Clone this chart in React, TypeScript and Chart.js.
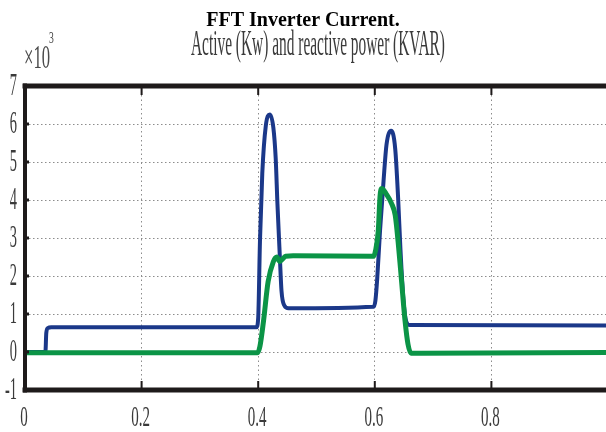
import React, { useEffect, useRef } from "react";
import { Chart, registerables } from "chart.js";

Chart.register(...registerables);

const TITLE = "FFT Inverter Current.";
const SUBTITLE = "Active (Kw) and reactive power (KVAR)";
const EXP_BASE = "×10";
const EXP_POWER = "3";

const xTickLabels = ["0", "0.2", "0.4", "0.6", "0.8"];
const yTickLabels = ["-1", "0", "1", "2", "3", "4", "5", "6", "7"];

// Active power (kW, ×10^3) — time (s)
const activeT = [0, 0.035, 0.0365, 0.039, 0.045, 0.397, 0.4, 0.403, 0.407, 0.413, 0.42, 0.426, 0.43, 0.433, 0.437, 0.44, 0.445, 0.452, 0.598, 0.601, 0.604, 0.609, 0.615, 0.62, 0.628, 0.635, 0.64, 0.644, 0.649, 0.654, 0.66, 1.0];
const activeP = [0, 0, 0.5, 0.63, 0.65, 0.65, 0.9, 2.9, 4.7, 5.95, 6.25, 5.9, 5.1, 3.9, 2.55, 1.6, 1.22, 1.15, 1.19, 1.35, 1.9, 3.2, 4.5, 5.45, 5.82, 5.35, 4.05, 2.7, 1.4, 0.8, 0.71, 0.7];

// Reactive power (kVAR, ×10^3)
const reactiveT = [0, 0.399, 0.403, 0.409, 0.417, 0.426, 0.432, 0.437, 0.442, 0.447, 0.46, 0.598, 0.601, 0.606, 0.609, 0.612, 0.62, 0.629, 0.635, 0.64, 0.646, 0.652, 0.657, 0.662, 0.68, 1.0];
const reactiveQ = [-0.02, -0.02, 0.15, 0.8, 1.85, 2.38, 2.5, 2.38, 2.45, 2.52, 2.53, 2.52, 2.65, 3.2, 4.1, 4.3, 4.15, 3.9, 3.6, 2.9, 1.85, 0.8, 0.2, -0.03, -0.03, -0.01];

const SERIF = "'Liberation Serif', 'Times New Roman', serif";

function condensed(ctx: CanvasRenderingContext2D, text: string, x: number, y: number, font: string, sx: number, align: CanvasTextAlign, baseline: CanvasTextBaseline, color: string) {
  ctx.save();
  ctx.font = font;
  ctx.fillStyle = color;
  ctx.textAlign = align;
  ctx.textBaseline = baseline;
  ctx.translate(x, y);
  ctx.scale(sx, 1);
  ctx.fillText(text, 0, 0);
  ctx.restore();
}

const decorPlugin = {
  id: "decor",
  afterDraw(chart: any) {
    const ctx: CanvasRenderingContext2D = chart.ctx;
    const { left, top, right, bottom } = chart.chartArea;
    const xs = chart.scales.x;
    const ys = chart.scales.y;

    // frame
    ctx.save();
    ctx.strokeStyle = "#1e1a1a";
    ctx.lineCap = "butt";
    ctx.lineWidth = 5;
    ctx.beginPath();
    ctx.moveTo(left - 2.5, top);
    ctx.lineTo(right + 20, top);
    ctx.moveTo(left - 2.5, bottom);
    ctx.lineTo(right + 20, bottom);
    ctx.stroke();
    ctx.lineWidth = 4;
    ctx.beginPath();
    ctx.moveTo(left, top - 2.5);
    ctx.lineTo(left, bottom + 2.5);
    ctx.stroke();

    // inner tick marks
    ctx.lineWidth = 2;
    ctx.beginPath();
    xs.ticks.forEach((t: any) => {
      const px = xs.getPixelForValue(t.value);
      ctx.moveTo(px, top);
      ctx.lineTo(px, top + 9);
      ctx.moveTo(px, bottom);
      ctx.lineTo(px, bottom - 9);
    });
    ctx.stroke();
    ctx.lineWidth = 3;
    ctx.beginPath();
    ys.ticks.forEach((t: any) => {
      const py = ys.getPixelForValue(t.value);
      ctx.moveTo(left, py);
      ctx.lineTo(left + 4, py);
    });
    ctx.stroke();
    ctx.restore();

    // tick labels
    ys.ticks.forEach((t: any, i: number) => {
      const py = ys.getPixelForValue(t.value);
      const label = yTickLabels[i];
      if (label !== undefined) condensed(ctx, label, 17, py + 1, `32px ${SERIF}`, 0.45, "right", "middle", "#3a3a3a");
    });
    xs.ticks.forEach((t: any, i: number) => {
      const px = xs.getPixelForValue(t.value);
      const label = xTickLabels[i];
      if (label !== undefined) condensed(ctx, label, px - 1, 418, `30px ${SERIF}`, 0.5, "center", "middle", "#3a3a3a");
    });

    // title
    ctx.save();
    ctx.font = `bold 20px ${SERIF}`;
    ctx.fillStyle = "#000";
    ctx.textAlign = "center";
    ctx.textBaseline = "alphabetic";
    ctx.fillText(TITLE, 303, 26);
    ctx.restore();

    // subtitle, condensed to fit
    ctx.save();
    ctx.font = `35px ${SERIF}`;
    const w = ctx.measureText(SUBTITLE).width;
    ctx.restore();
    condensed(ctx, SUBTITLE, 191, 55, `35px ${SERIF}`, 254 / w, "left", "alphabetic", "#3a3a3a");

    // exponent
    condensed(ctx, EXP_BASE, 24, 68, `34px ${SERIF}`, 0.49, "left", "alphabetic", "#4a4a4a");
    condensed(ctx, EXP_POWER, 49, 43, `16px ${SERIF}`, 0.6, "left", "alphabetic", "#4a4a4a");
  },
};

export default function App() {
  const ref = useRef<HTMLCanvasElement | null>(null);

  useEffect(() => {
    if (!ref.current) return;
    const chart = new Chart(ref.current, {
      type: "line",
      data: {
        datasets: [
          {
            label: "Reactive power (KVAR)",
            data: reactiveT.map((t, i) => ({ x: t, y: reactiveQ[i] })),
            borderColor: "#0b9446",
            borderWidth: 5,
            pointRadius: 0,
            cubicInterpolationMode: "monotone",
            fill: false,
          },
          {
            label: "Active power (Kw)",
            data: activeT.map((t, i) => ({ x: t, y: activeP[i] })),
            borderColor: "#1b3889",
            borderWidth: 4,
            pointRadius: 0,
            cubicInterpolationMode: "monotone",
            fill: false,
          },
        ],
      },
      options: {
        animation: false,
        responsive: false,
        maintainAspectRatio: false,
        devicePixelRatio: 1,
        layout: { padding: { left: 25, top: 86, right: 12, bottom: 42 } },
        plugins: { legend: { display: false }, tooltip: { enabled: false }, title: { display: false } },
        scales: {
          x: {
            type: "linear",
            min: 0,
            max: 1,
            ticks: { display: false, stepSize: 0.2 },
            grid: { color: "#8c8c8c", lineWidth: 1, drawTicks: false },
            border: { display: false, dash: [1.5, 3] },
            afterFit: (s: any) => { s.height = 0; },
          },
          y: {
            type: "linear",
            min: -1,
            max: 7,
            ticks: { display: false, stepSize: 1 },
            grid: { color: "#8c8c8c", lineWidth: 1, drawTicks: false },
            border: { display: false, dash: [1.5, 2.5] },
            afterFit: (s: any) => { s.width = 0; },
          },
        },
      },
      plugins: [decorPlugin],
    });
    return () => chart.destroy();
  }, []);

  return (
    <div style={{ position: "fixed", left: 0, top: 0, width: 606, height: 432, overflow: "hidden", background: "#fff" }}>
      <canvas ref={ref} width={620} height={432} style={{ display: "block", width: 620, height: 432 }} />
    </div>
  );
}
